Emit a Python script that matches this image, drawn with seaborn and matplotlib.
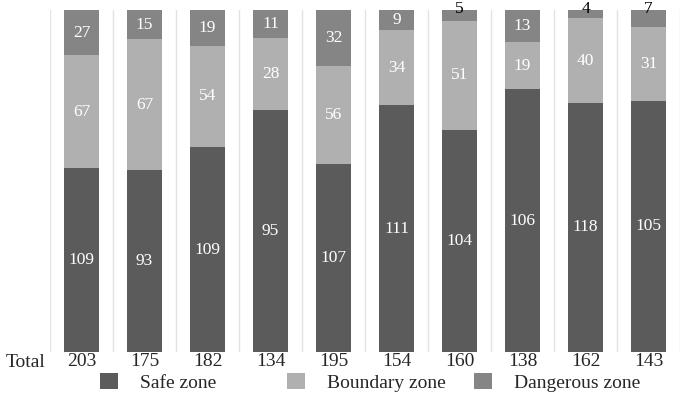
import numpy as np
import pandas as pd
import seaborn as sns
import matplotlib.pyplot as plt

# counts per group (bottom to top)
safe = [109, 93, 109, 95, 107, 111, 104, 106, 118, 105]
boundary = [67, 67, 54, 28, 56, 34, 51, 19, 40, 31]
danger = [27, 15, 19, 11, 32, 9, 5, 13, 4, 7]
groups = [f"G{i + 1}" for i in range(len(safe))]

col_safe = "#5b5b5b"
col_bound = "#b0b0b0"
col_danger = "#858585"

sns.set_theme(style="white")
plt.rcParams["font.family"] = ["Liberation Serif", "DejaVu Serif"]

df = pd.DataFrame({"group": groups, "safe": safe, "boundary": boundary, "danger": danger})
df["total"] = df["safe"] + df["boundary"] + df["danger"]
df["p_safe"] = df["safe"] / df["total"]
df["p_bound"] = (df["safe"] + df["boundary"]) / df["total"]
df["p_all"] = 1.0

fig, ax = plt.subplots(figsize=(6.89, 4.11), dpi=100)
fig.subplots_adjust(left=0.0726, right=0.987, top=0.9757, bottom=0.1436)

bar_kw = dict(order=groups, saturation=1, width=0.57, linewidth=0, ax=ax)
sns.barplot(data=df, x="group", y="p_all", color=col_danger, label="Dangerous zone", zorder=2, **bar_kw)
sns.barplot(data=df, x="group", y="p_bound", color=col_bound, label="Boundary zone", zorder=3, **bar_kw)
sns.barplot(data=df, x="group", y="p_safe", color=col_safe, label="Safe zone", zorder=4, **bar_kw)

handles, labels = ax.get_legend_handles_labels()
if ax.get_legend() is not None:
    ax.get_legend().remove()

# segment labels
for i, row in df.iterrows():
    ax.text(i, row["p_safe"] / 2, str(row["safe"]), ha="center", va="center",
            color="white", fontsize=12.5, zorder=5)
    ax.text(i, (row["p_safe"] + row["p_bound"]) / 2, str(row["boundary"]), ha="center",
            va="center", color="white", fontsize=12.5, zorder=5)
    seg = 1 - row["p_bound"]
    if seg > 0.055:
        ax.text(i, (row["p_bound"] + 1) / 2, str(row["danger"]), ha="center", va="center",
                color="white", fontsize=12.5, zorder=5)
    else:
        ax.text(i, 1.004, str(row["danger"]), ha="center", va="center",
                color="black", fontsize=12.5, zorder=5, clip_on=False)

ax.set_ylim(0, 1)
ax.set_xlim(-0.5, len(groups) - 0.5)
ax.set_yticks([])
ax.set_xticks(range(len(groups)))
ax.set_xticklabels(df["total"].astype(str), fontsize=14)
ax.tick_params(axis="x", length=0, pad=1)
ax.set_xticks(np.arange(-0.5, len(groups), 1), minor=True)
ax.tick_params(axis="x", which="minor", length=0)
ax.grid(which="minor", axis="x", color="#e3e3e3", linewidth=1, zorder=0)
ax.set_xlabel("")
ax.set_ylabel("")
for s in ax.spines.values():
    s.set_visible(False)

ax.text(-0.071, -0.007, "Total", transform=ax.transAxes, ha="left", va="top", fontsize=14)

names = ["Safe zone", "Boundary zone", "Dangerous zone"]
xpos = [100 / 689, 287 / 689, 474 / 689]
for name, xp in zip(names, xpos):
    k = labels.index(name)
    fig.legend([handles[k]], [name], loc="center left", bbox_to_anchor=(xp, 0.07),
               frameon=False, fontsize=14, handlelength=0.95, handleheight=0.95,
               handletextpad=1.1, borderpad=0, borderaxespad=0)

fig.savefig("out.png", dpi=100)
